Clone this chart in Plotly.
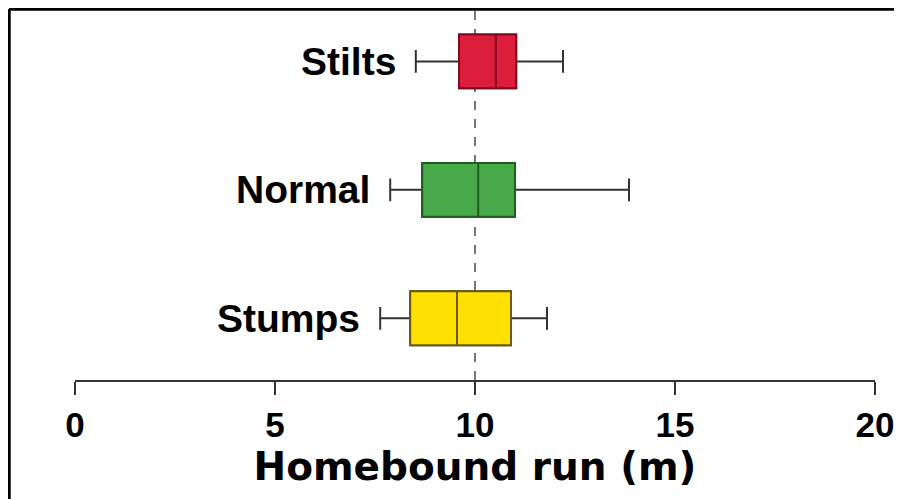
import plotly.graph_objects as go

categories = ["Stumps", "Normal", "Stilts"]
lower_whisker = [7.63, 7.88, 8.52]
q1_values = [8.38, 8.68, 9.6]
median_values = [9.55, 10.08, 10.52]
q3_values = [10.9, 11.0, 11.03]
upper_whisker = [11.8, 13.85, 12.2]
fill_colors = ["#FFE000", "#48A948", "#DC1E3C"]
edge_colors = ["#6B5A10", "#1E5E1E", "#7A0A1E"]
x_ticks = [0, 5, 10, 15, 20]
x_title = "Homebound run (m)"

fig = go.Figure()
for i, cat in enumerate(categories):
    # whiskers + outline (dark grey)
    fig.add_trace(go.Box(
        y=[cat], q1=[q1_values[i]], median=[median_values[i]], q3=[q3_values[i]],
        lowerfence=[lower_whisker[i]], upperfence=[upper_whisker[i]],
        orientation="h", fillcolor=fill_colors[i],
        line=dict(color="#333333", width=2), width=0.42, whiskerwidth=0.42,
        showlegend=False, hoverinfo="skip"))
    # coloured box on top
    fig.add_trace(go.Box(
        y=[cat], q1=[q1_values[i]], median=[median_values[i]], q3=[q3_values[i]],
        lowerfence=[q1_values[i]], upperfence=[q3_values[i]],
        orientation="h", fillcolor=fill_colors[i],
        line=dict(color=edge_colors[i], width=2), width=0.42, whiskerwidth=0,
        showlegend=False, hoverinfo="skip"))
    fig.add_annotation(x=lower_whisker[i], y=cat, xref="x", yref="y", text=cat,
                       showarrow=False, xanchor="right", yanchor="middle", xshift=-18,
                       font=dict(family="Liberation Sans, Arial, sans-serif", size=39,
                                 color="black", weight="bold"))

fig.add_shape(type="line", xref="x", yref="paper", x0=10, x1=10, y0=0, y1=1,
              line=dict(color="#777777", width=2, dash="dash"), layer="below")
# outer frame (left and top)
fig.add_shape(type="line", xref="paper", yref="paper", x0=-0.0825, x1=-0.0825, y0=-0.4, y1=1.0027,
              line=dict(color="black", width=3.5))
fig.add_shape(type="line", xref="paper", yref="paper", x0=-0.0825, x1=1.06, y0=1.0027, y1=1.0027,
              line=dict(color="black", width=3.5))

fig.update_layout(
    width=894, height=491,
    margin=dict(l=67, r=27, t=2, b=119),
    paper_bgcolor="white", plot_bgcolor="white",
    boxmode="overlay",
    xaxis=dict(range=[0, 20], tickvals=x_ticks, ticktext=[str(v) for v in x_ticks],
               showgrid=False, zeroline=False, showline=True, linecolor="#333333", linewidth=2,
               ticks="outside", ticklen=13, tickwidth=2, tickcolor="#333333",
               tickfont=dict(family="Liberation Sans, Arial, sans-serif", size=35, color="black",
                             weight="bold"),
               title=dict(text=x_title, standoff=4,
                          font=dict(family="DejaVu Sans, sans-serif", size=39, color="black", weight="bold"))),
    yaxis=dict(type="category", categoryarray=categories, range=[-0.48, 2.4],
               showticklabels=False, showgrid=False, zeroline=False, showline=False, ticks=""),
)

fig.write_html("out.html")
